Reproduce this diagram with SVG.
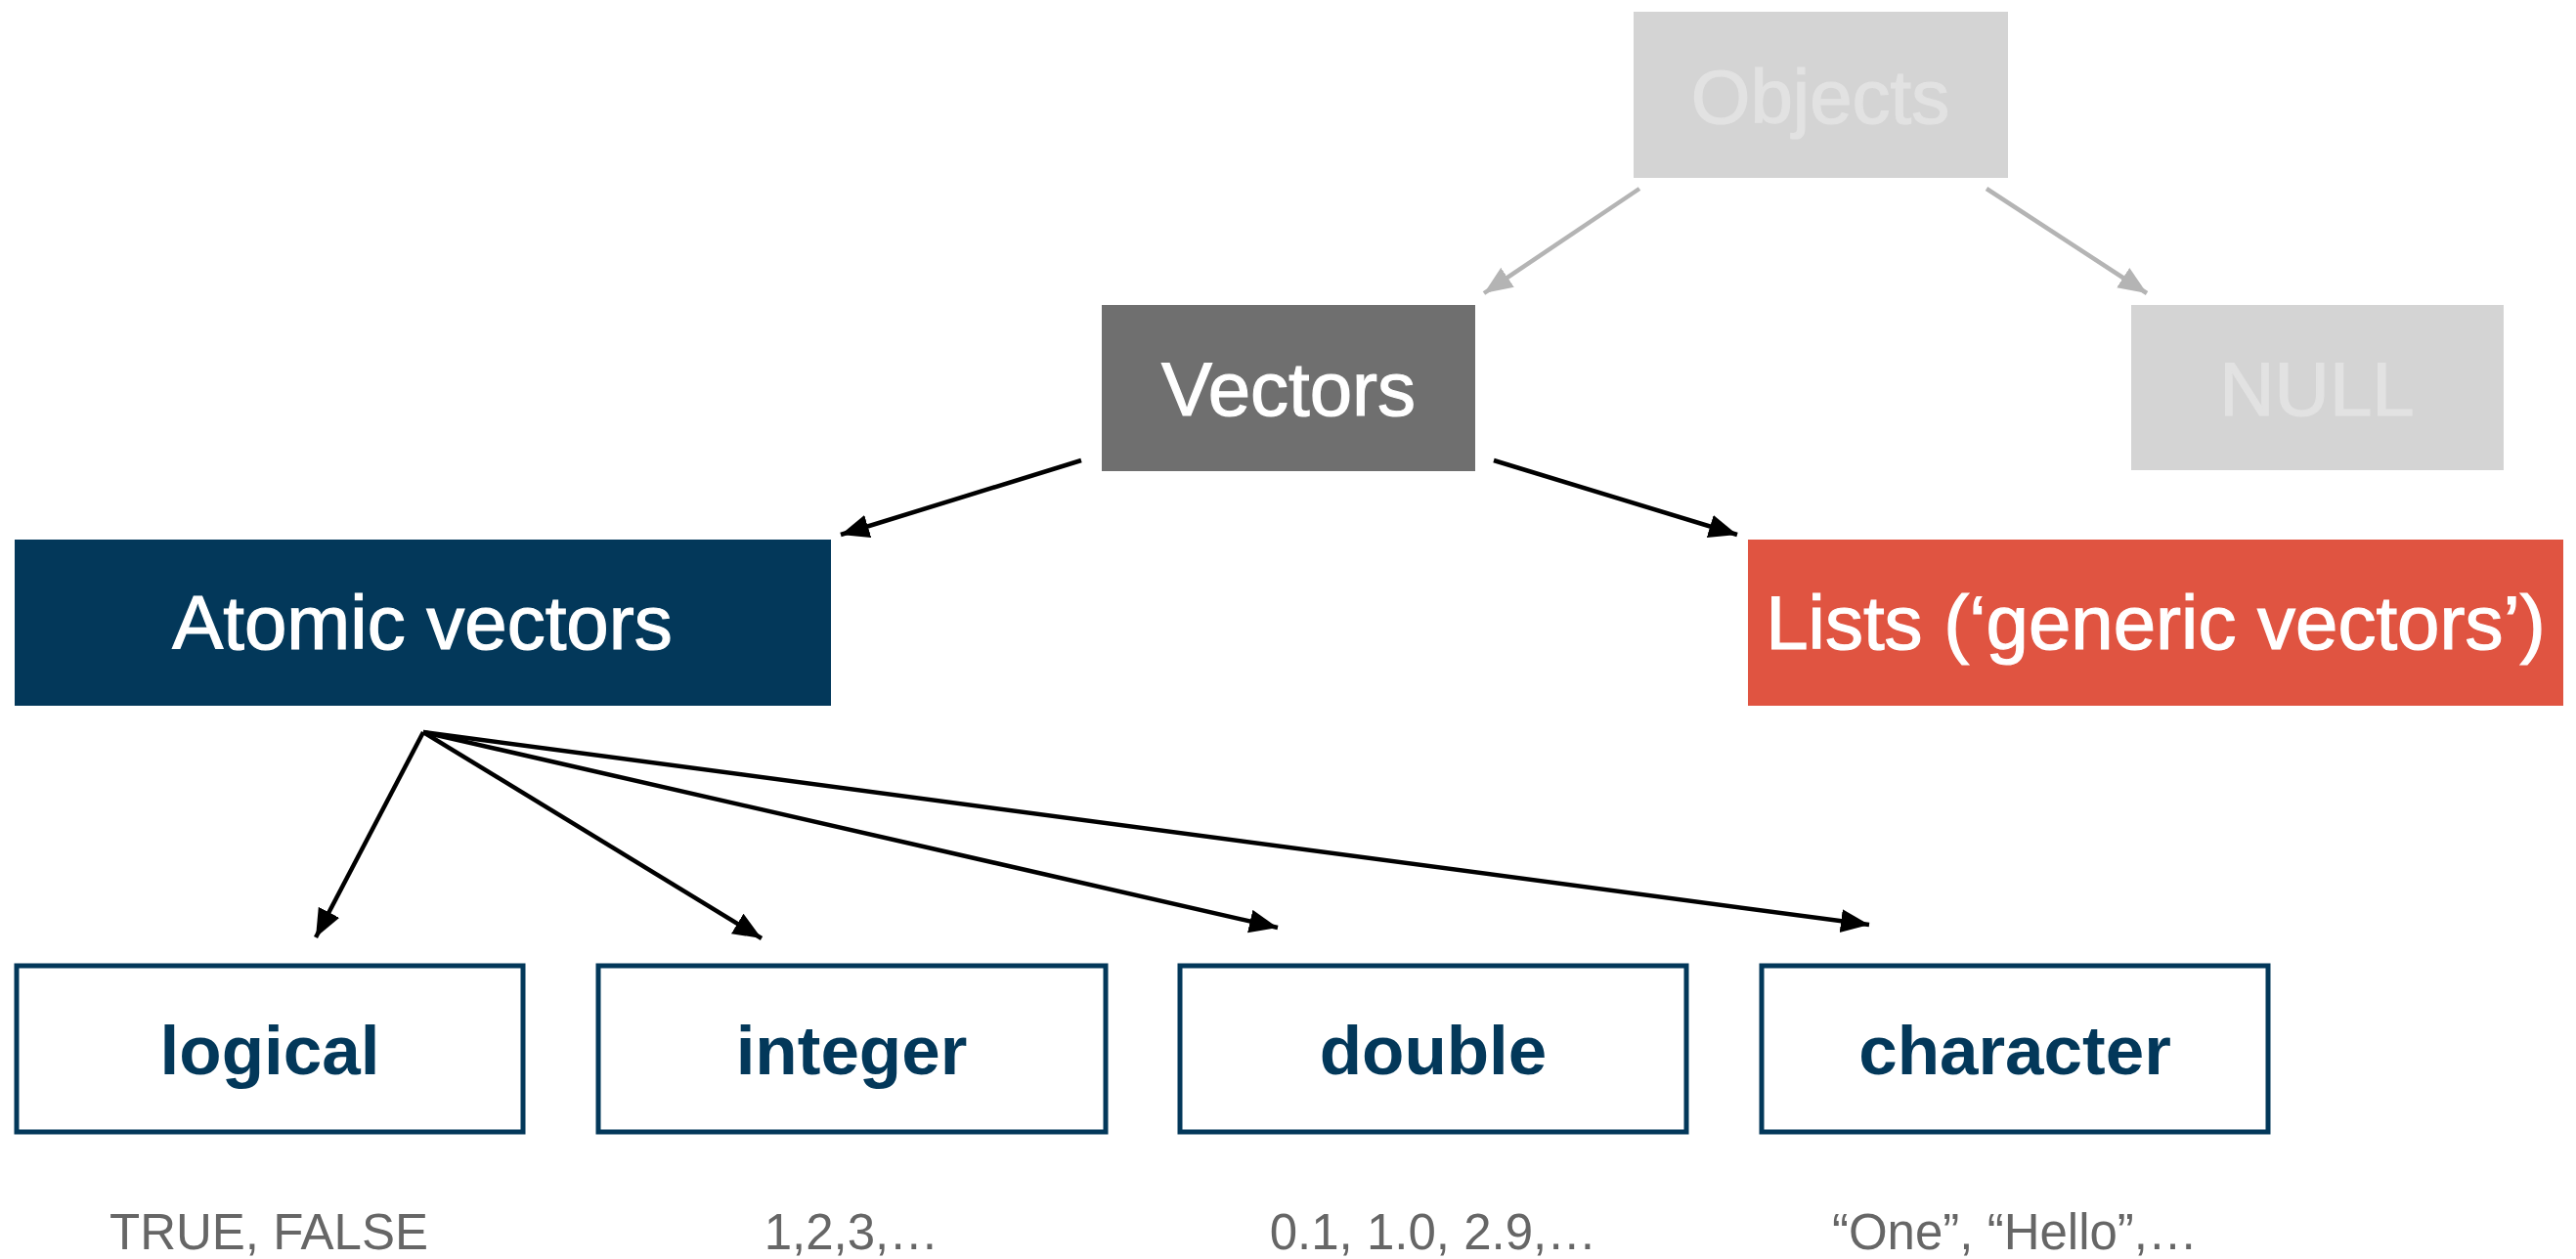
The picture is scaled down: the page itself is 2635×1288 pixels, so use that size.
<svg xmlns="http://www.w3.org/2000/svg" width="2635" height="1288" viewBox="0 0 2635 1288">
<style>
.big{font-family:"Liberation Sans",Arial,sans-serif;font-size:78px;text-anchor:middle;stroke-width:1.2}
.type{font-family:"Liberation Sans",Arial,sans-serif;font-size:71px;font-weight:bold;fill:#03385a;text-anchor:middle}
.ex{font-family:"Liberation Sans",Arial,sans-serif;font-size:51px;fill:#666666;text-anchor:middle}
.tbox{fill:#ffffff;stroke:#03385a;stroke-width:5}
.blk{stroke:#000;stroke-width:4.5;fill:none}
.gry{stroke:#b4b4b4;stroke-width:4.5;fill:none}
</style>
<defs>
<marker id="ab" markerUnits="userSpaceOnUse" markerWidth="32" markerHeight="26" refX="29" refY="12" orient="auto">
<path d="M0,0 L29,12 L0,24 z" fill="#000"/>
</marker>
<marker id="ag" markerUnits="userSpaceOnUse" markerWidth="32" markerHeight="26" refX="29" refY="12" orient="auto">
<path d="M0,0 L29,12 L0,24 z" fill="#b4b4b4"/>
</marker>
</defs>
<rect width="2635" height="1288" fill="#ffffff"/>
<g id="connectors">
<line class="gry" x1="1677" y1="193" x2="1518" y2="300" marker-end="url(#ag)"/>
<line class="gry" x1="2032" y1="193" x2="2196" y2="300" marker-end="url(#ag)"/>
<line class="blk" x1="1106" y1="471" x2="860" y2="547" marker-end="url(#ab)"/>
<line class="blk" x1="1528" y1="471" x2="1777" y2="547" marker-end="url(#ab)"/>
<line class="blk" x1="433" y1="749" x2="323" y2="959" marker-end="url(#ab)"/>
<line class="blk" x1="433" y1="749" x2="779" y2="960" marker-end="url(#ab)"/>
<line class="blk" x1="433" y1="749" x2="1307" y2="949" marker-end="url(#ab)"/>
<line class="blk" x1="433" y1="749" x2="1912" y2="946" marker-end="url(#ab)"/>
</g>
<g id="objects">
<rect x="1671" y="12" width="383" height="170" fill="#d4d4d4"/>
<text class="big" x="1862" y="126" fill="#e2e2e2" stroke="#e2e2e2">Objects</text>
</g>
<g id="vectors">
<rect x="1127" y="312" width="382" height="170" fill="#6f6f6f"/>
<text class="big" x="1318" y="425" fill="#ffffff" stroke="#ffffff">Vectors</text>
</g>
<g id="null">
<rect x="2180" y="312" width="381" height="169" fill="#d4d4d4"/>
<text class="big" x="2370" y="425" fill="#e2e2e2" stroke="#e2e2e2">NULL</text>
</g>
<g id="atomic">
<rect x="15" y="552" width="835" height="170" fill="#03385a"/>
<text class="big" x="432" y="664" fill="#ffffff" stroke="#ffffff">Atomic vectors</text>
</g>
<g id="lists">
<rect x="1788" y="552" width="834" height="170" fill="#e05441"/>
<text class="big" x="2205" y="664" fill="#ffffff" stroke="#ffffff">Lists (‘generic vectors’)</text>
</g>
<g id="logical">
<rect class="tbox" x="17" y="988" width="518" height="170"/>
<text class="type" x="276" y="1099">logical</text>
<text class="ex" x="275" y="1278">TRUE, FALSE</text>
</g>
<g id="integer">
<rect class="tbox" x="612" y="988" width="519" height="170"/>
<text class="type" x="871" y="1099">integer</text>
<text class="ex" x="871" y="1278">1,2,3,…</text>
</g>
<g id="double">
<rect class="tbox" x="1207" y="988" width="518" height="170"/>
<text class="type" x="1466" y="1099">double</text>
<text class="ex" x="1466" y="1278">0.1, 1.0, 2.9,…</text>
</g>
<g id="character">
<rect class="tbox" x="1802" y="988" width="518" height="170"/>
<text class="type" x="2061" y="1099">character</text>
<text class="ex" x="2061" y="1278">“One”, “Hello”,…</text>
</g>
</svg>
